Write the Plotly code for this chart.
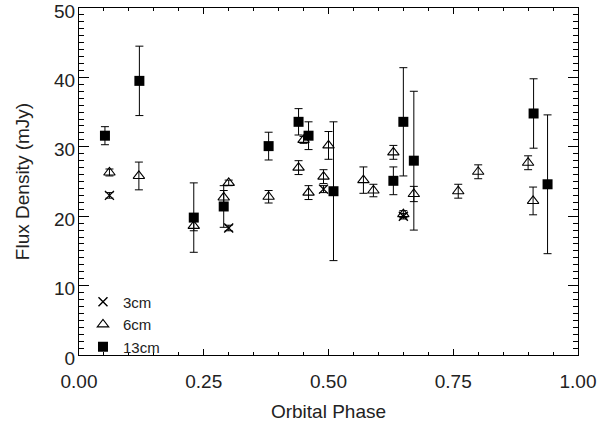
import plotly.graph_objects as go

# 3 cm
x3 = [0.061, 0.300, 0.490, 0.650]
y3 = [23.0, 18.3, 23.9, 20.0]
e3 = [0.4, 0.4, 0.5, 0.4]

# 6 cm
x6 = [0.061, 0.120, 0.230, 0.290, 0.300, 0.380, 0.440, 0.450, 0.460, 0.490,
      0.500, 0.570, 0.590, 0.630, 0.650, 0.671, 0.760, 0.800, 0.900, 0.910]
y6 = [26.3, 25.8, 18.6, 22.7, 24.8, 22.8, 27.0, 31.0, 23.4, 25.7,
      30.2, 25.2, 23.7, 29.2, 20.3, 23.2, 23.6, 26.4, 27.7, 22.2]
e6 = [0.5, 2.0, 0.7, 1.0, 0.4, 0.9, 1.0, 0.5, 1.0, 1.0,
      2.0, 1.9, 0.9, 1.0, 0.5, 1.1, 1.0, 1.0, 1.0, 2.0]

# 13 cm
x13 = [0.052, 0.121, 0.230, 0.290, 0.380, 0.440, 0.460, 0.510, 0.630, 0.650,
       0.671, 0.911, 0.939]
y13 = [31.6, 39.5, 19.8, 21.4, 30.1, 33.6, 31.6, 23.6, 25.1, 33.6,
       28.0, 34.8, 24.6]
e13 = [1.3, 5.0, 5.0, 3.0, 2.0, 1.9, 2.0, 10.0, 2.0, 7.8,
       10.0, 5.0, 10.0]

x_ticks = [0.0, 0.25, 0.5, 0.75, 1.0]
x_ticklabels = ["0.00", "0.25", "0.50", "0.75", "1.00"]
y_ticks = [0, 10, 20, 30, 40, 50]

FONT = "Liberation Sans, Arial, Helvetica, sans-serif"


def err(vals):
    return dict(type="data", array=vals, visible=True, color="black",
                thickness=1, width=4)


fig = go.Figure()
fig.add_trace(go.Scatter(
    x=x3, y=y3, mode="markers", name="3cm", error_y=err(e3),
    marker=dict(symbol="x-thin-open", size=9, color="black",
                line=dict(color="black", width=1.4))))
fig.add_trace(go.Scatter(
    x=x6, y=y6, mode="markers", name="6cm", error_y=err(e6),
    marker=dict(symbol="triangle-up-open", size=10, color="black",
                line=dict(color="black", width=1.1))))
fig.add_trace(go.Scatter(
    x=x13, y=y13, mode="markers", name="13cm", error_y=err(e13),
    marker=dict(symbol="square", size=10, color="black",
                line=dict(width=0))))

axis_common = dict(
    showline=True, linecolor="black", linewidth=1, mirror="allticks",
    ticks="inside", tickcolor="black", showgrid=False, zeroline=False,
    automargin=False, ticklabeloverflow="allow",
    tickfont=dict(family=FONT, size=19, color="#222"),
)

fig.update_layout(
    width=598, height=425,
    margin=dict(l=79, r=20, t=8, b=70, autoexpand=False),
    paper_bgcolor="white", plot_bgcolor="white",
    font=dict(family=FONT, color="#222"),
    showlegend=True,
    legend=dict(x=0.008, y=0.2, xanchor="left", yanchor="top",
                bgcolor="rgba(0,0,0,0)", font=dict(family=FONT, size=15, color="#222"),
                itemwidth=30, tracegroupgap=0),
    xaxis=dict(
        range=[0, 1], tickvals=x_ticks, ticktext=x_ticklabels,
        ticklen=6, minor=dict(dtick=0.05, ticklen=3, ticks="inside", tickcolor="black"),
        ticklabelstandoff=9,
        title=dict(text="Orbital Phase", font=dict(family=FONT, size=19, color="#222"),
                   standoff=13),
        **axis_common),
    yaxis=dict(
        range=[0, 50], tickvals=y_ticks,
        ticklen=10, minor=dict(dtick=1, ticklen=5, ticks="inside", tickcolor="black"),
        ticklabelstandoff=-1, ticklabelshift=3,
        title=dict(text="Flux Density (mJy)", font=dict(family=FONT, size=19, color="#222"),
                   standoff=19),
        **axis_common),
)

fig.write_html("out.html", config={"displayModeBar": False},
               post_script="document.body.style.margin='0';document.body.style.overflow='hidden';")
